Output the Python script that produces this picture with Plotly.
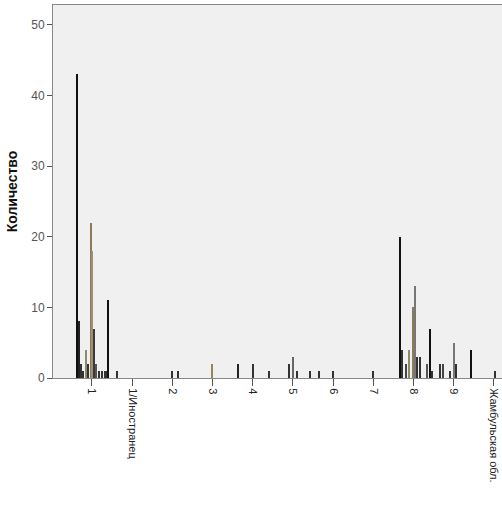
import plotly.graph_objects as go

tick_labels = ["1", "1/Иностранец", "2", "3", "4", "5", "6", "7", "8", "9", "Жамбульская обл."]
tick_pos = list(range(len(tick_labels)))

bar_x = [-0.37, -0.32, -0.27, -0.22, -0.15, -0.10, -0.03, 0.0, 0.04, 0.10, 0.17, 0.25, 0.33, 0.37, 0.40, 0.62,
         1.99, 2.14, 2.99, 3.63, 4.0, 4.40, 4.90, 5.0, 5.10, 5.42, 5.65, 6.0, 6.99,
         7.66, 7.71, 7.81, 7.89, 7.99, 8.03, 8.08, 8.16, 8.33, 8.41, 8.46, 8.66, 8.73, 8.91, 9.0, 9.05, 9.43, 10.02]
bar_y = [43, 8, 2, 1, 4, 2, 22, 18, 7, 2, 1, 1, 1, 1, 11, 1,
         1, 1, 2, 2, 2, 1, 2, 3, 1, 1, 1, 1, 1,
         20, 4, 2, 4, 10, 13, 3, 3, 2, 7, 1, 2, 2, 1, 5, 2, 4, 1]
bar_colors = ["#111111", "#222222", "#333333", "#333333", "#8a8a6e", "#333333", "#8b7a5c", "#a08f70", "#3a3a3a",
              "#555555", "#333333", "#333333", "#333333", "#333333", "#111111", "#333333",
              "#333333", "#333333", "#9a8454", "#222222", "#333333", "#333333", "#333333", "#666666", "#333333",
              "#333333", "#333333", "#333333", "#333333",
              "#111111", "#333333", "#444444", "#8a8a6e", "#8b7a5c", "#777777", "#333333", "#333333", "#555555",
              "#111111", "#333333", "#333333", "#444444", "#333333", "#777777", "#333333", "#111111", "#333333"]

fig = go.Figure(go.Bar(x=bar_x, y=bar_y, width=0.05, marker=dict(color=bar_colors, line=dict(width=0))))

fig.update_layout(
    width=502, height=513,
    margin=dict(l=53, r=0, t=5, b=135),
    paper_bgcolor="white", plot_bgcolor="#f0f0f0",
    font=dict(family="Liberation Sans, Arial", size=11, color="#333333"),
    showlegend=False,
    bargap=0,
    xaxis=dict(range=[-0.97, 10.2], tickvals=tick_pos, ticktext=tick_labels, tickangle=90,
               ticks="outside", ticklen=7, tickcolor="#555555", showgrid=False, zeroline=False,
               showline=True, linecolor="#888888", linewidth=1, mirror=True, automargin=False,
               tickfont=dict(size=11, color="#222222")),
    yaxis=dict(range=[0, 52.8], tickvals=[0, 10, 20, 30, 40, 50], ticks="outside", ticklen=5,
               tickcolor="#555555", showgrid=False, zeroline=False, automargin=False,
               showline=True, linecolor="#888888", linewidth=1, mirror=True,
               tickfont=dict(size=12, color="#555555"),
               title=dict(text="<b>Количество</b>", font=dict(size=14, color="#111111"), standoff=10)),
)

fig.write_html("out.html", config={"displayModeBar": False},
               post_script="document.body.style.margin='0';document.body.style.padding='0';")
